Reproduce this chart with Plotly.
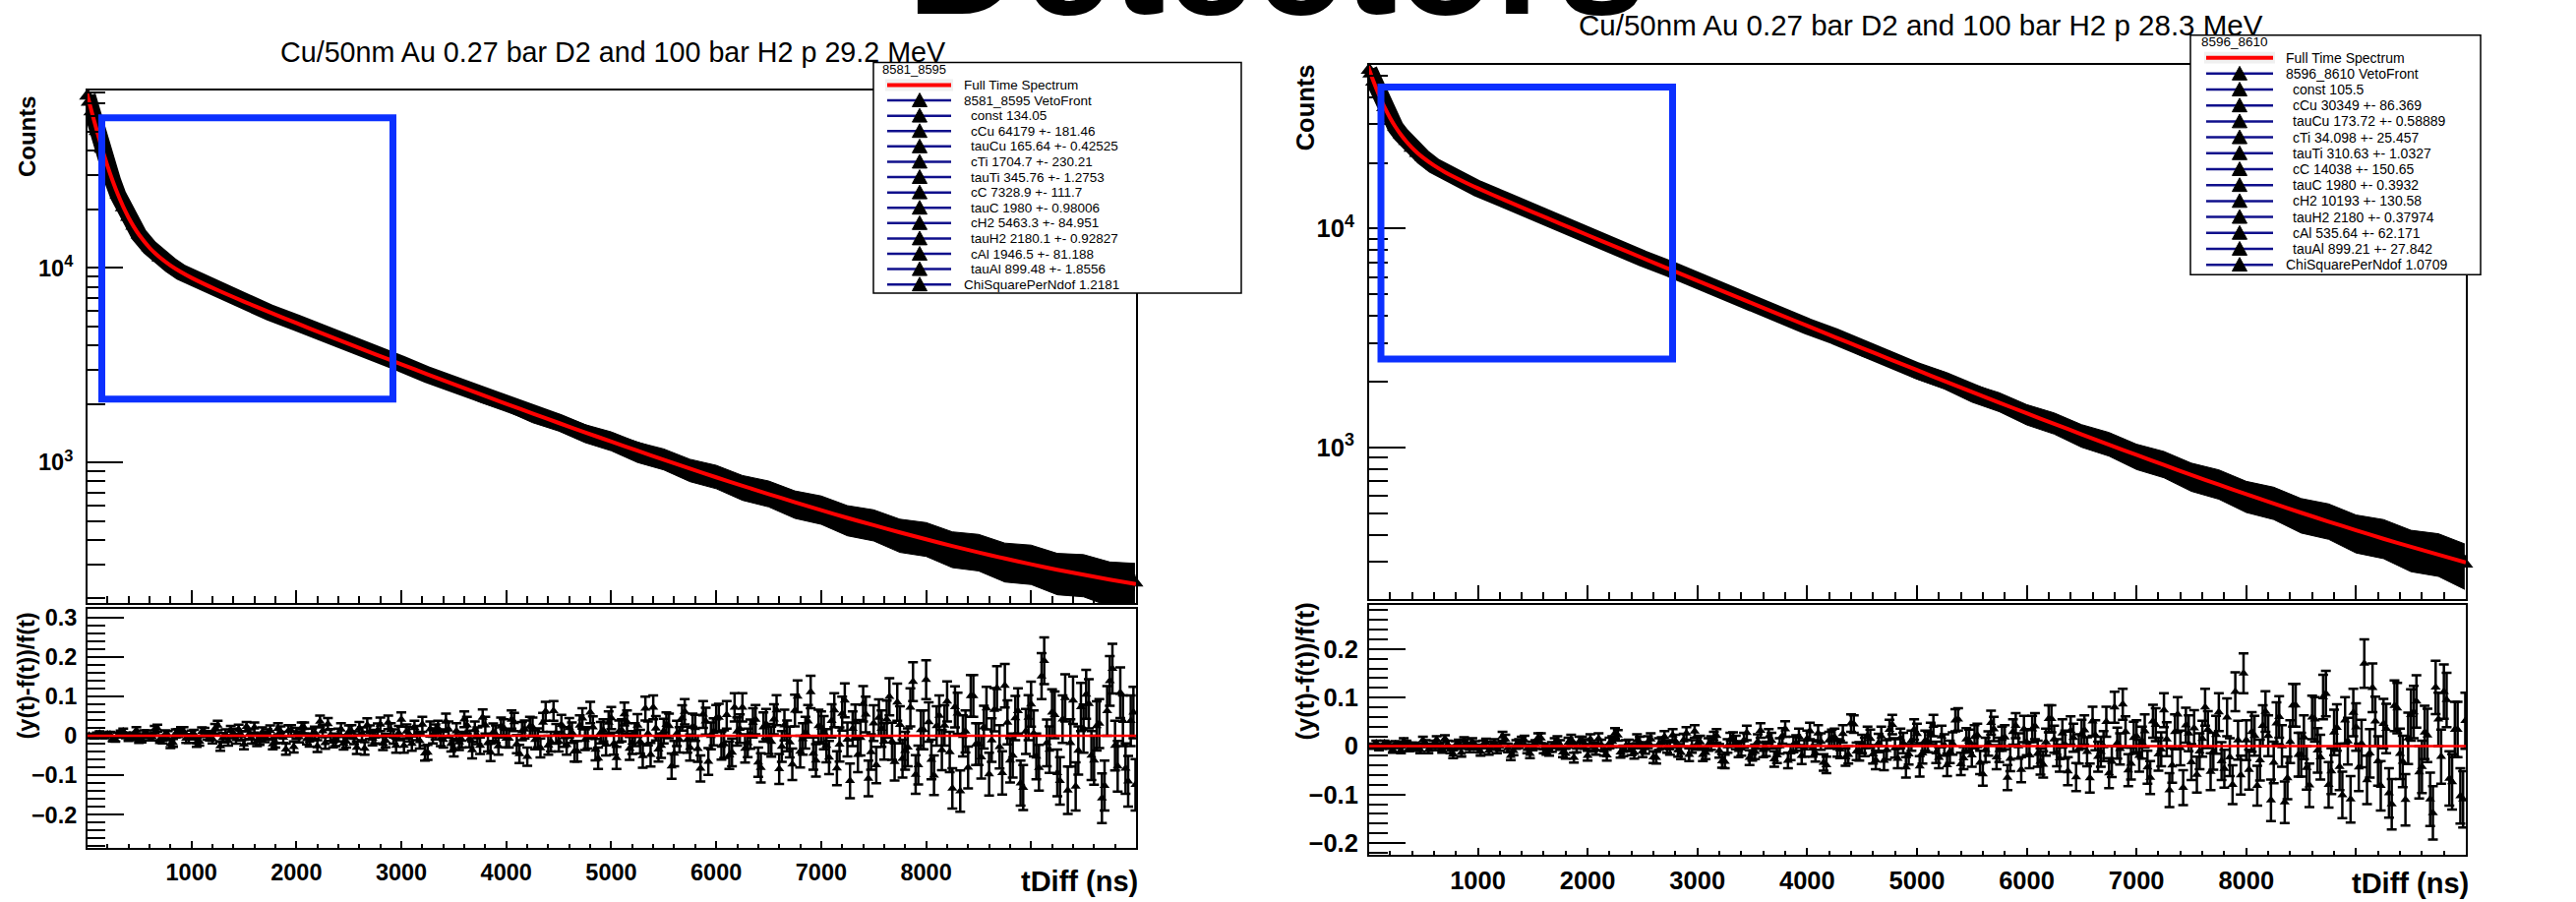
import plotly.graph_objects as go

# ---------------- data ----------------
fit_t = [0, 25, 50, 100, 150, 200, 250, 300, 350, 400, 450, 500, 600, 700, 800, 900, 1000,
         1250, 1500, 1750, 2000, 2250, 2500, 2750, 3000, 3250, 3500, 3750, 4000,
         4250, 4500, 4750, 5000, 5250, 5500, 5750, 6000, 6250, 6500, 6750, 7000,
         7250, 7500, 7750, 8000, 8250, 8500, 8750, 9000, 9250, 9500, 9750, 10000]
data_t = [10, 25, 50, 100, 150, 200, 250, 300, 350, 400, 450, 500, 600, 700, 800, 900, 1000,
          1250, 1500, 1750, 2000, 2250, 2500, 2750, 3000, 3250, 3500, 3750, 4000,
          4250, 4500, 4750, 5000, 5250, 5500, 5750, 6000, 6250, 6500, 6750, 7000,
          7250, 7500, 7750, 8000, 8250, 8500, 8750, 9000, 9250, 9500, 9750, 9990]

left_fit = [80756, 71439, 63393, 50430, 40728, 33445, 27955, 23795, 20624, 18190, 16303, 14825,
            12710, 11300, 10294, 9524, 8899, 7677, 6713, 5902, 5203, 4595, 4065, 3602, 3195,
            2837, 2522, 2245, 2001, 1786, 1596, 1428, 1280, 1149, 1033, 930, 839, 759,
            688, 625, 569, 519, 476, 437, 403, 372, 345, 321, 300, 281, 265, 250, 237]
left_counts = [76500, 71200, 63500, 50300, 40850, 33350, 28050, 23700, 20450, 18250, 16400, 14780,
               12760, 11260, 10330, 9490, 8930, 7650, 6740, 5880, 5230, 4570, 4090, 3580, 3215,
               2820, 2540, 2230, 2020, 1770, 1610, 1415, 1292, 1135, 1045, 918, 850, 748,
               697, 615, 577, 510, 483, 428, 410, 364, 352, 314, 306, 275, 270, 245, 241]
# visual spread (half-width, counts) of the scattered data band
left_spread = [1106, 1067, 1008, 897, 808, 730, 670, 616, 572, 540, 512, 486,
               452, 424, 407, 390, 378, 350, 328, 307, 289, 270, 256, 239, 227,
               212, 202, 189, 180, 168, 160, 150, 144, 135, 129, 121, 117, 109,
               106, 99, 96, 90, 88, 83, 81, 76, 75, 71, 70, 66, 66, 63, 62]

right_fit = [55255, 50878, 47051, 40760, 35907, 32139, 29186, 26845, 24971, 23448, 22190, 21136,
             19454, 18146, 17066, 16131, 15294, 13475, 11916, 10552, 9349, 8287, 7349, 6519, 5784,
             5135, 4560, 4051, 3601, 3202, 2849, 2537, 2260, 2015, 1797, 1605, 1434, 1283,
             1150, 1031, 926, 833, 750, 677, 612, 555, 504, 459, 419, 383, 352, 324, 299]
right_counts = [53100, 51000, 46900, 40900, 35800, 32200, 29100, 26950, 25100, 23350, 22100, 21250,
                19400, 18200, 17000, 16200, 15250, 13520, 11880, 10600, 9310, 8320, 7320, 6550, 5760,
                5160, 4540, 4075, 3585, 3225, 2830, 2555, 2245, 2032, 1782, 1620, 1420, 1296,
                1138, 1043, 915, 844, 740, 686, 603, 564, 496, 467, 411, 390, 345, 331, 294]
right_spread = [922, 903, 866, 809, 757, 718, 682, 657, 634, 611, 595, 583,
                557, 540, 522, 509, 494, 465, 436, 412, 386, 365, 342, 324, 304,
                287, 270, 255, 240, 227, 213, 202, 190, 180, 169, 161, 151, 144,
                135, 129, 121, 116, 109, 105, 98, 95, 89, 86, 81, 79, 74, 73, 69]

# residual bin centres (ns): two interleaved sets of bins
res_t = [25, 75, 125, 175, 225, 275, 325, 375, 425, 475, 525, 575, 625, 675, 725, 775, 825, 875, 925, 975,
         1025, 1075, 1125, 1175, 1225, 1275, 1325, 1375, 1425, 1475, 1525, 1575, 1625, 1675, 1725, 1775, 1825, 1875, 1925, 1975,
         2025, 2075, 2125, 2175, 2225, 2275, 2325, 2375, 2425, 2475, 2525, 2575, 2625, 2675, 2725, 2775, 2825, 2875, 2925, 2975,
         3025, 3075, 3125, 3175, 3225, 3275, 3325, 3375, 3425, 3475, 3525, 3575, 3625, 3675, 3725, 3775, 3825, 3875, 3925, 3975,
         4025, 4075, 4125, 4175, 4225, 4275, 4325, 4375, 4425, 4475, 4525, 4575, 4625, 4675, 4725, 4775, 4825, 4875, 4925, 4975,
         5025, 5075, 5125, 5175, 5225, 5275, 5325, 5375, 5425, 5475, 5525, 5575, 5625, 5675, 5725, 5775, 5825, 5875, 5925, 5975,
         6025, 6075, 6125, 6175, 6225, 6275, 6325, 6375, 6425, 6475, 6525, 6575, 6625, 6675, 6725, 6775, 6825, 6875, 6925, 6975,
         7025, 7075, 7125, 7175, 7225, 7275, 7325, 7375, 7425, 7475, 7525, 7575, 7625, 7675, 7725, 7775, 7825, 7875, 7925, 7975,
         8025, 8075, 8125, 8175, 8225, 8275, 8325, 8375, 8425, 8475, 8525, 8575, 8625, 8675, 8725, 8775, 8825, 8875, 8925, 8975,
         9025, 9075, 9125, 9175, 9225, 9275, 9325, 9375, 9425, 9475, 9525, 9575, 9625, 9675, 9725, 9775, 9825, 9875, 9925, 9975]
res_t2 = [50, 100, 150, 200, 250, 300, 350, 400, 450, 500, 550, 600, 650, 700, 750, 800, 850, 900, 950, 1000,
          1050, 1100, 1150, 1200, 1250, 1300, 1350, 1400, 1450, 1500, 1550, 1600, 1650, 1700, 1750, 1800, 1850, 1900, 1950, 2000,
          2050, 2100, 2150, 2200, 2250, 2300, 2350, 2400, 2450, 2500, 2550, 2600, 2650, 2700, 2750, 2800, 2850, 2900, 2950, 3000,
          3050, 3100, 3150, 3200, 3250, 3300, 3350, 3400, 3450, 3500, 3550, 3600, 3650, 3700, 3750, 3800, 3850, 3900, 3950, 4000,
          4050, 4100, 4150, 4200, 4250, 4300, 4350, 4400, 4450, 4500, 4550, 4600, 4650, 4700, 4750, 4800, 4850, 4900, 4950, 5000,
          5050, 5100, 5150, 5200, 5250, 5300, 5350, 5400, 5450, 5500, 5550, 5600, 5650, 5700, 5750, 5800, 5850, 5900, 5950, 6000,
          6050, 6100, 6150, 6200, 6250, 6300, 6350, 6400, 6450, 6500, 6550, 6600, 6650, 6700, 6750, 6800, 6850, 6900, 6950, 7000,
          7050, 7100, 7150, 7200, 7250, 7300, 7350, 7400, 7450, 7500, 7550, 7600, 7650, 7700, 7750, 7800, 7850, 7900, 7950, 8000,
          8050, 8100, 8150, 8200, 8250, 8300, 8350, 8400, 8450, 8500, 8550, 8600, 8650, 8700, 8750, 8800, 8850, 8900, 8950, 9000,
          9050, 9100, 9150, 9200, 9250, 9300, 9350, 9400, 9450, 9500, 9550, 9600, 9650, 9700, 9750, 9800, 9850, 9900, 9950, 9995]

# residuals (y-f)/f and their errors, in units of 1e-3
left_res_pm = [1, -3, 6, -1, 4, -9, 6, 1, -3, 14, -9, 5, -3, 19, -9, 2, -18, 7, 11, -7,
               4, -14, 9, -1, 18, -26, 4, 13, -8, 0, 23, -7, -13, 8, 3, -21, 18, -4, 13, -28,
               -3, 20, -12, 8, 36, -18, 2, -10, 16, -14, 11, -30, 5, 27, -7, 14, -19, 34, -2, 7,
               -25, 4, 20, -13, -44, 17, 10, -6, 36, -20, 12, -10, 27, -36, 0, 46, -18, 9, -26, 20,
               -7, 35, -46, 16, 24, -10, -31, 62, -15, 5, 28, -23, 8, -39, 44, -5, 22, -57, 14, 34,
               -20, 11, 55, -32, 3, -15, 69, -48, 19, -25, 28, -77, 6, 45, -10, 23, -33, 54, -65, 10,
               46, -21, -49, 72, 18, -32, 4, 41, -81, 30, -15, 65, -27, 0, -72, 100, -8, 37, -45, 25,
               8, -55, 65, -22, 90, -114, 35, -5, 54, -41, -74, 18, 42, -14, 85, -58, -29, 137, -74, 15,
               35, -100, 51, 26, -41, 73, -140, 11, 101, -21, -54, 70, -11, 121, -94, 34, -50, 63, -131, 46,
               6, -81, 190, -35, 53, -114, 96, -18, -128, 73, 105, -50, 25, -158, 63, 170, -77, 38, -115, 59]
left_res2_pm = [-2, 4, -1, 4, -8, 2, 11, -6, 0, -10, 6, -3, 16, -9, 4, -21, 6, 12, -7, 2,
                -17, 10, 1, -8, 26, -5, -13, 6, 16, -22, 4, 21, -10, -3, 13, -17, 10, -34, 13, 6,
                20, -8, 3, -26, 12, 30, -14, 2, -19, 10, -5, 19, -32, 9, -2, 29, -12, 15, -25, 41,
                11, -20, 7, 29, -42, 0, 19, -10, 16, -32, -16, 42, -8, 15, -25, 27, -42, 4, 24, -7,
                41, -21, 12, -53, 22, -5, 34, -24, 63, -15, -3, 20, -39, 26, -10, 59, -35, 8, -22, 45,
                -56, 14, 35, -17, 26, -51, 6, 72, -34, 12, 25, -45, -10, 61, -30, 20, -83, 37, 0, 44,
                -25, 53, -42, 11, 72, -18, 33, -67, 22, -8, 42, -84, 27, -16, 64, -40, 8, 111, -62, 21,
                -25, 38, -82, 56, -9, 18, -48, 81, -108, 32, 46, -14, 99, -66, 28, -38, 72, -98, 15, 142,
                -60, 25, -36, 87, -133, 57, 0, -80, 101, -21, 22, -97, 66, -28, 127, -62, 45, -120, 11, 80,
                -52, 151, -18, 59, -94, 42, -138, 90, -37, 18, 81, -62, 31, -126, 139, -25, 109, -83, 38, -124]
left_err_pm = [4, 4, 5, 5, 6, 6, 7, 7, 8, 8, 8, 9, 9, 9, 10, 10, 10, 10, 11, 11,
               11, 11, 11, 11, 12, 12, 12, 12, 12, 12, 12, 13, 13, 13, 13, 13, 14, 14, 14, 14,
               14, 14, 15, 15, 15, 15, 15, 16, 16, 16, 16, 16, 16, 17, 17, 17, 17, 17, 18, 18,
               18, 18, 18, 19, 19, 19, 19, 20, 20, 20, 20, 20, 21, 21, 21, 21, 22, 22, 22, 22,
               23, 23, 23, 23, 24, 24, 24, 24, 25, 25, 25, 25, 26, 26, 26, 27, 27, 27, 28, 28,
               28, 28, 29, 29, 29, 30, 30, 30, 31, 31, 31, 32, 32, 32, 33, 33, 33, 34, 34, 34,
               35, 35, 35, 36, 36, 36, 37, 37, 37, 38, 38, 38, 39, 39, 40, 40, 40, 41, 41, 41,
               42, 42, 43, 43, 43, 44, 44, 45, 45, 45, 46, 46, 47, 47, 47, 48, 48, 49, 49, 49,
               50, 50, 51, 51, 51, 52, 52, 53, 53, 53, 54, 54, 55, 55, 55, 56, 56, 57, 57, 57,
               58, 58, 59, 59, 59, 60, 60, 60, 61, 61, 62, 62, 62, 63, 63, 63, 64, 64, 64, 65]

right_res_pm = [-2, 6, -1, 4, -8, 2, 10, -5, 0, -8, 5, -2, 13, -7, 3, -17, 5, 10, -5, 2,
                -12, 7, 1, -6, 20, -4, -10, 5, 12, -16, 3, 16, -8, -2, 10, -13, 7, -24, 9, 4,
                14, -7, 2, -19, 9, 22, -10, 1, -14, 7, -4, 14, -24, 6, -1, 22, -9, 12, -18, 30,
                8, -14, 6, 21, -31, 0, 14, -8, 12, -24, -12, 32, -6, 11, -19, 21, -30, 3, 19, -5,
                31, -15, 9, -39, 16, -4, 25, -18, 45, -11, -2, 15, -29, 20, -8, 44, -26, 6, -17, 34,
                -42, 11, 26, -13, 20, -39, 5, 55, -25, 10, 19, -34, -8, 48, -23, 15, -65, 29, 0, 35,
                -19, 41, -32, 8, 56, -14, 26, -52, 17, -6, 33, -66, 22, -12, 50, -32, 6, 86, -50, 17,
                -20, 31, -65, 44, -7, 14, -40, 65, -86, 26, 37, -11, 80, -53, 23, -31, 59, -80, 12, 150,
                -49, 21, -29, 71, -112, 47, 0, -66, 84, -18, 18, -81, 55, -23, 108, -52, 38, -101, 10, 69,
                -44, 170, -15, 51, -82, 36, -120, 78, -32, 16, 70, -54, 28, -110, 121, -22, 95, -74, 34, -110]
right_res2_pm = [1, -4, 6, -1, 4, -9, 5, 1, -3, 12, -8, 4, -2, 15, -7, 2, -14, 6, 8, -5,
                 3, -10, 6, -1, 14, -20, 3, 10, -6, 0, 17, -5, -10, 6, 2, -16, 13, -3, 9, -20,
                 -2, 15, -9, 6, 26, -13, 1, -7, 12, -11, 8, -23, 4, 19, -5, 10, -14, 26, -1, 5,
                 -18, 3, 15, -10, -32, 13, 7, -5, 27, -15, 9, -8, 20, -27, 0, 35, -13, 6, -20, 15,
                 -5, 26, -34, 12, 18, -7, -23, 47, -11, 4, 21, -17, 6, -30, 34, -4, 16, -44, 11, 25,
                 -15, 8, 42, -24, 2, -12, 53, -37, 14, -19, 22, -58, 5, 35, -8, 18, -26, 42, -49, 8,
                 35, -16, -38, 56, 14, -25, 3, 32, -64, 24, -12, 51, -22, 0, -56, 80, -6, 29, -36, 20,
                 7, -44, 51, -17, 74, -91, 29, -4, 43, -33, -59, 15, 34, -11, 70, -47, -23, 112, -60, 12,
                 29, -82, 42, 21, -34, 60, -116, 9, 84, -18, -45, 59, -9, 101, -80, 28, -43, 53, -110, 39,
                 5, -70, 120, -31, 46, -97, 83, -16, -111, 64, 92, -43, 22, -138, 55, 112, -67, 34, -103, 52]
right_err_pm = [4, 5, 5, 5, 6, 6, 6, 6, 7, 7, 7, 7, 7, 7, 8, 8, 8, 8, 8, 8,
                8, 8, 8, 9, 9, 9, 9, 9, 9, 9, 9, 10, 10, 10, 10, 10, 10, 10, 10, 10,
                10, 11, 11, 11, 11, 11, 11, 12, 12, 12, 12, 12, 12, 12, 13, 13, 13, 13, 13, 13,
                13, 13, 14, 14, 14, 14, 14, 15, 15, 15, 15, 15, 15, 16, 16, 16, 16, 16, 17, 17,
                17, 17, 17, 17, 18, 18, 18, 18, 18, 19, 19, 19, 19, 20, 20, 20, 20, 21, 21, 21,
                21, 21, 22, 22, 22, 23, 23, 23, 23, 24, 24, 24, 25, 25, 25, 25, 26, 26, 26, 27,
                27, 27, 27, 28, 28, 28, 29, 29, 29, 30, 30, 30, 31, 31, 31, 32, 32, 32, 33, 33,
                33, 34, 34, 34, 35, 35, 36, 36, 36, 37, 37, 37, 38, 38, 39, 39, 39, 40, 40, 41,
                41, 41, 42, 42, 43, 43, 43, 44, 44, 45, 45, 45, 46, 46, 47, 47, 48, 48, 48, 49,
                49, 50, 50, 51, 51, 51, 52, 52, 53, 53, 54, 54, 55, 55, 55, 56, 56, 57, 57, 58]

x_tick_vals = [1000, 2000, 3000, 4000, 5000, 6000, 7000, 8000, 9000]
x_tick_text = ["1000", "2000", "3000", "4000", "5000", "6000", "7000", "8000", " "]

left_title = "Cu/50nm Au 0.27 bar D2 and 100 bar H2 p 29.2 MeV"
right_title = "Cu/50nm Au 0.27 bar D2 and 100 bar H2 p 28.3 MeV"
left_header = "8581_8595"
right_header = "8596_8610"
left_rows = ["Full Time Spectrum", "8581_8595 VetoFront", "const 134.05", "cCu 64179 +- 181.46",
             "tauCu 165.64 +- 0.42525", "cTi 1704.7 +- 230.21", "tauTi 345.76 +- 1.2753",
             "cC 7328.9 +- 111.7", "tauC 1980 +- 0.98006", "cH2 5463.3 +- 84.951",
             "tauH2 2180.1 +- 0.92827", "cAl 1946.5 +- 81.188", "tauAl 899.48 +- 1.8556",
             "ChiSquarePerNdof 1.2181"]
right_rows = ["Full Time Spectrum", "8596_8610 VetoFront", "const 105.5", "cCu 30349 +- 86.369",
              "tauCu 173.72 +- 0.58889", "cTi 34.098 +- 25.457", "tauTi 310.63 +- 1.0327",
              "cC 14038 +- 150.65", "tauC 1980 +- 0.3932", "cH2 10193 +- 130.58",
              "tauH2 2180 +- 0.37974", "cAl 535.64 +- 62.171", "tauAl 899.21 +- 27.842",
              "ChiSquarePerNdof 1.0709"]

# ---------------- layout helpers ----------------
W, H = 2619, 917
FONT = "Liberation Sans, Arial, Helvetica, sans-serif"


def px(x):
    return x / W


def py(y):
    return 1 - y / H


fig = go.Figure()

# top panels: scattered data band, data triangles and fit curve
for xa, ya, t, c, s, f in [("x", "y", data_t, left_counts, left_spread, left_fit),
                           ("x3", "y3", data_t, right_counts, right_spread, right_fit)]:
    fig.add_trace(go.Scatter(x=t, y=[a - b for a, b in zip(c, s)], mode="lines",
                             xaxis=xa, yaxis=ya, line=dict(color="black", width=1),
                             showlegend=False, hoverinfo="skip"))
    fig.add_trace(go.Scatter(x=t, y=[a + b for a, b in zip(c, s)], mode="lines",
                             xaxis=xa, yaxis=ya, line=dict(color="black", width=1),
                             fill="tonexty", fillcolor="black",
                             showlegend=False, hoverinfo="skip"))
    fig.add_trace(go.Scatter(x=t, y=c, mode="lines+markers", xaxis=xa, yaxis=ya,
                             line=dict(color="black", width=17),
                             marker=dict(symbol="triangle-up", size=15, color="black"),
                             cliponaxis=False, showlegend=False, hoverinfo="skip"))
    fig.add_trace(go.Scatter(x=fit_t, y=f, mode="lines", xaxis=xa, yaxis=ya,
                             line=dict(color="#ff0000", width=4, shape="spline", smoothing=0.6),
                             showlegend=False, hoverinfo="skip"))

# residual panels
for xa, ya, tt, r, e in [("x2", "y2", res_t, left_res_pm, left_err_pm),
                         ("x2", "y2", res_t2, left_res2_pm, left_err_pm),
                         ("x4", "y4", res_t, right_res_pm, right_err_pm),
                         ("x4", "y4", res_t2, right_res2_pm, right_err_pm)]:
    fig.add_trace(go.Scatter(x=tt, y=[v / 1000 for v in r], mode="markers",
                             xaxis=xa, yaxis=ya,
                             marker=dict(symbol="triangle-up", size=9, color="black"),
                             error_y=dict(type="data", array=[v / 1000 for v in e],
                                          color="black", thickness=2.5, width=5),
                             showlegend=False, hoverinfo="skip"))

frame = dict(showline=True, linecolor="black", linewidth=2, mirror=True, showgrid=False,
             zeroline=False, ticks="inside", tickcolor="black", tickwidth=2)


def xax(x0, x1, anchor, labels, major_len, minor_len, fs):
    d = dict(frame)
    d.update(domain=[px(x0), px(x1)], range=[10, 10000], anchor=anchor,
             tickmode="array", tickvals=x_tick_vals, ticktext=x_tick_text,
             showticklabels=labels, ticklen=major_len,
             tickfont=dict(family=FONT, size=fs, color="black", weight="bold"),
             ticklabelstandoff=2,
             minor=dict(tick0=0, dtick=200, ticklen=minor_len, ticks="inside",
                        tickwidth=2, tickcolor="black", showgrid=False))
    return d


log_minor = [m * 10 ** k for k in (2, 3, 4) for m in range(2, 10)]


def ylog(y0, y1, rng, anchor, fs, major_len, minor_len):
    d = dict(frame)
    d.update(domain=[py(y1), py(y0)], type="log", range=rng, anchor=anchor,
             tickmode="array", tickvals=[1000, 10000],
             ticktext=["10<sup>3</sup>", "10<sup>4</sup>"], ticklen=major_len,
             tickfont=dict(family=FONT, size=fs, color="black", weight="bold"),
             ticklabelstandoff=8,
             minor=dict(tickmode="array", tickvals=log_minor, ticklen=minor_len,
                        ticks="inside", tickwidth=2, tickcolor="black", showgrid=False))
    return d


def yres(y0, y1, rng, anchor, fs, major_len, minor_len):
    d = dict(frame)
    d.update(domain=[py(y1), py(y0)], range=rng, anchor=anchor, tick0=0, dtick=0.1,
             ticklen=major_len,
             tickfont=dict(family=FONT, size=fs, color="black", weight="bold"),
             ticklabelstandoff=4,
             minor=dict(tick0=0, dtick=0.02, ticklen=minor_len, ticks="inside",
                        tickwidth=2, tickcolor="black", showgrid=False))
    return d


fig.update_layout(
    width=W, height=H, margin=dict(l=0, r=0, t=0, b=0),
    paper_bgcolor="white", plot_bgcolor="white", showlegend=False,
    xaxis=xax(89, 1155, "y", False, 13, 7, 23.5),
    yaxis=ylog(89, 613, [2.278, 4.9095], "x", 23.5, 36, 18),
    xaxis2=xax(89, 1155, "y2", True, 7, 4, 23.5),
    yaxis2=yres(619, 864, [-0.2847, 0.3215], "x2", 23.5, 37, 18),
    xaxis3=xax(1392, 2507, "y3", False, 14, 7, 25.5),
    yaxis3=ylog(62, 609, [2.308, 4.75], "x3", 25.5, 37, 19),
    xaxis4=xax(1392, 2507, "y4", True, 7, 4, 25.5),
    yaxis4=yres(615, 871, [-0.225, 0.291], "x4", 25.5, 37, 19),
)

shapes = []
ann = []

# zero lines on residual panels
for xa, ya in [("x2", "y2"), ("x4", "y4")]:
    shapes.append(dict(type="line", xref=xa + " domain", yref=ya, x0=0, x1=1, y0=0, y1=0,
                       line=dict(color="#ff0000", width=2.5), layer="above"))

# blue highlight rectangles
for (x0, y0, x1, y1) in [(103.5, 116.5, 399.5, 404.5), (1404, 85, 1700.5, 363.5)]:
    shapes.append(dict(type="rect", xref="paper", yref="paper", x0=px(x0), x1=px(x1),
                       y0=py(y1), y1=py(y0), line=dict(color="#0b30ff", width=7),
                       fillcolor="rgba(0,0,0,0)", layer="above"))


def legend(box, header, hxy, rows, row_y0, dy, lx0, lx1, tx, text_x, param_x, fs, hfs):
    x0, y0, x1, y1 = box
    shapes.append(dict(type="rect", xref="paper", yref="paper", x0=px(x0), x1=px(x1),
                       y0=py(y1), y1=py(y0), line=dict(color="black", width=1.5),
                       fillcolor="white", layer="above"))
    ann.append(dict(text=header, x=px(hxy[0] - 2), y=py(hxy[1]), xref="paper", yref="paper",
                    xanchor="left", yanchor="middle", showarrow=False,
                    font=dict(family=FONT, size=hfs, color="black")))
    for i, row in enumerate(rows):
        yy = row_y0 + i * dy
        if i == 0:
            shapes.append(dict(type="rect", xref="paper", yref="paper", x0=px(lx0 - 2),
                               x1=px(lx1 + 2), y0=py(yy + 6), y1=py(yy - 6),
                               line=dict(width=0), fillcolor="#f0f0f0", layer="above"))
            shapes.append(dict(type="line", xref="paper", yref="paper", x0=px(lx0), x1=px(lx1),
                               y0=py(yy), y1=py(yy), line=dict(color="#ff0000", width=4),
                               layer="above"))
        else:
            shapes.append(dict(type="line", xref="paper", yref="paper", x0=px(lx0), x1=px(lx1),
                               y0=py(yy), y1=py(yy), line=dict(color="#10108c", width=2.5),
                               layer="above"))
            path = "M {:.6f},{:.6f} L {:.6f},{:.6f} L {:.6f},{:.6f} Z".format(
                px(tx - 7.5), py(yy + 6.5), px(tx + 7.5), py(yy + 6.5), px(tx), py(yy - 7.5))
            shapes.append(dict(type="path", xref="paper", yref="paper", path=path,
                               fillcolor="black", line=dict(color="black", width=1),
                               layer="above"))
        xx = text_x if (i < 2 or i == len(rows) - 1) else param_x
        ann.append(dict(text=row, x=px(xx - 2), y=py(yy), xref="paper", yref="paper",
                        xanchor="left", yanchor="middle", showarrow=False,
                        font=dict(family=FONT, size=fs, color="black")))


legend((888, 60, 1262, 296), left_header, (897, 67), left_rows, 83, 15.7,
       902, 967, 935, 980, 987, 13.5, 13)
legend((2227, 32, 2522, 277), right_header, (2238, 39), right_rows, 55, 16.3,
       2243, 2311, 2277, 2324, 2331, 14, 13.5)

# titles
ann.append(dict(text="Detectors", x=px(1298), y=py(10 - 0.3465 * 163), xref="paper", yref="paper",
                xanchor="center", yanchor="middle", showarrow=False,
                font=dict(family=FONT, size=163, color="black", weight="bold")))
ann.append(dict(text=left_title, x=px(623), y=py(49), xref="paper", yref="paper",
                xanchor="center", yanchor="middle", showarrow=False,
                font=dict(family=FONT, size=28.7, color="black")))
ann.append(dict(text=right_title, x=px(1953), y=py(22), xref="paper", yref="paper",
                xanchor="center", yanchor="middle", showarrow=False,
                font=dict(family=FONT, size=29.5, color="black")))

# axis titles
for txt, x, y, fs in [("Counts", 27, 136, 24), ("Counts", 1327, 106, 25.5),
                      ("(y(t)-f(t))/f(t)", 27, 688, 23.5), ("(y(t)-f(t))/f(t)", 1327, 683, 25.5)]:
    ann.append(dict(text=txt, x=px(x), y=py(y), xref="paper", yref="paper", textangle=-90,
                    xanchor="center", yanchor="middle", showarrow=False,
                    font=dict(family=FONT, size=fs, color="black", weight="bold")))
for x, y in [(1159, 898), (2512, 900)]:
    ann.append(dict(text="tDiff (ns)", x=px(x), y=py(y), xref="paper", yref="paper",
                    xanchor="right", yanchor="middle", showarrow=False,
                    font=dict(family=FONT, size=29, color="black", weight="bold")))

fig.update_layout(shapes=shapes, annotations=ann)
fig.write_html("out.html", config={"displayModeBar": False})
